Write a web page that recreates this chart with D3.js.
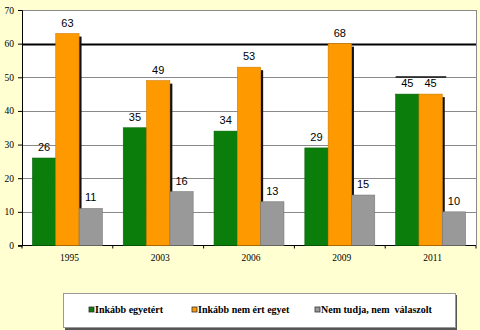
<!DOCTYPE html>
<html><head><meta charset="utf-8">
<script src="https://cdn.jsdelivr.net/npm/d3@7"></script>
<style>
html,body{margin:0;padding:0;background:#FFFFD2;}
svg{display:block;}
</style></head>
<body>
<svg id="c" width="480" height="330"></svg>
<script>
const years = ["1995","2003","2006","2009","2011"];
const seriesNames = ["Inkább egyetért","Inkább nem ért egyet","Nem tudja, nem  válaszolt"];
const agree = [26,35,34,29,45];
const disagree = [63,49,53,60,45];          // drawn bar heights
const disagreeLabels = ["63","49","53","68","45"]; // printed labels
const unknown = [11,16,13,15,10];
const yTicks = [0,10,20,30,40,50,60,70];
const colors = ["#0A7D0A","#FF9900","#999999"];

const svg = d3.select("#c");
const L=22, R=476, T=10, B=245.5;
const x = d3.scaleBand().domain(years).range([L,R]).paddingInner(0.23).paddingOuter(0.115);
const xs = d3.scaleBand().domain([0,1,2]).range([0,x.bandwidth()]);
const y = d3.scaleLinear().domain([0,70]).range([B,T]);

// plot background
svg.append("rect").attr("x",L).attr("y",T).attr("width",R-L).attr("height",B-T).attr("fill","#fff");

// gridlines
svg.append("g").selectAll("line").data(yTicks.filter(d=>d>0)).join("line")
  .attr("x1",L).attr("x2",R).attr("y1",d=>Math.round(y(d))+0.5).attr("y2",d=>Math.round(y(d))+0.5)
  .attr("stroke",d=>d===60?"#000":"#8a8a8a").attr("stroke-width",d=>d===60?1.8:1);
// right border
svg.append("line").attr("x1",R+0.5).attr("x2",R+0.5).attr("y1",T).attr("y2",B).attr("stroke","#8a8a8a");

// y axis
const yAxis = d3.axisLeft(y).tickValues(yTicks).tickSize(4).tickPadding(4);
const gy = svg.append("g").attr("transform",`translate(${L},0)`).call(yAxis);
gy.select(".domain").attr("stroke","#000");
gy.selectAll(".tick line").attr("stroke","#000");
gy.selectAll("text").attr("font-family","Liberation Serif").attr("font-size","9.5px").attr("fill","#000");

// x axis
const gx = svg.append("g").attr("transform",`translate(0,${B})`);
gx.append("line").attr("x1",L-4).attr("x2",R).attr("y1",0).attr("y2",0).attr("stroke","#000");
gx.selectAll("line.t").data(d3.range(years.length+1)).join("line").attr("class","t")
  .attr("x1",i=>L+i*(R-L)/years.length).attr("x2",i=>L+i*(R-L)/years.length)
  .attr("y1",0).attr("y2",3).attr("stroke","#000");
gx.selectAll("text").data(years).join("text")
  .attr("x",d=>x(d)+x.bandwidth()/2+2).attr("y",15)
  .attr("text-anchor","middle").attr("font-family","Liberation Serif").attr("font-size","9.5px").text(d=>d);

const groups = years.map((yr,i)=>({yr, vals:[agree[i],disagree[i],unknown[i]], labs:[String(agree[i]),disagreeLabels[i],String(unknown[i])]}));

const bars = svg.append("g");
groups.forEach(g=>{
  // shadow of orange bar
  bars.append("rect")
    .attr("x",x(g.yr)+xs(2)).attr("y",y(g.vals[1])+3)
    .attr("width",2.5).attr("height",B-y(g.vals[1])-3).attr("fill","#111");
  g.vals.forEach((v,j)=>{
    bars.append("rect")
      .attr("x",x(g.yr)+xs(j)).attr("y",y(v))
      .attr("width",xs.bandwidth()).attr("height",B-y(v))
      .attr("fill",colors[j]).attr("stroke",j===2?"#777":d3.color(colors[j]).darker(0.6)).attr("stroke-width",0.6);
  });
  g.labs.forEach((t,j)=>{
    bars.append("text")
      .attr("x",x(g.yr)+xs(j)+xs.bandwidth()/2).attr("y",y(g.vals[j])-7)
      .attr("text-anchor","middle").attr("font-family","Liberation Sans").attr("font-size","11px").text(t);
  });
});
// redraw gray bar over shadow
// dark segment above 2011 labels
svg.append("line").attr("x1",x("2011")).attr("x2",x("2011")+xs(2)+4)
  .attr("y1",Math.round(y(50))).attr("y2",Math.round(y(50))).attr("stroke","#111").attr("stroke-width",1.5);

// legend
const lg = svg.append("g");
lg.append("rect").attr("x",65).attr("y",295).attr("width",392).attr("height",35).attr("fill","#555");
lg.append("rect").attr("x",63.5).attr("y",293.5).attr("width",392).attr("height",34).attr("fill","#fff").attr("stroke","#999");
const lx = [89,192,315];
seriesNames.forEach((n,i)=>{
  lg.append("rect").attr("x",lx[i]).attr("y",307).attr("width",5).attr("height",5)
    .attr("fill",colors[i]).attr("stroke","#333").attr("stroke-width",0.8);
  lg.append("text").attr("x",lx[i]+6).attr("y",313).attr("font-family","Liberation Serif")
    .attr("font-size","10px").attr("font-weight","bold").style("white-space","pre").text(n);
});
</script>
</body></html>
